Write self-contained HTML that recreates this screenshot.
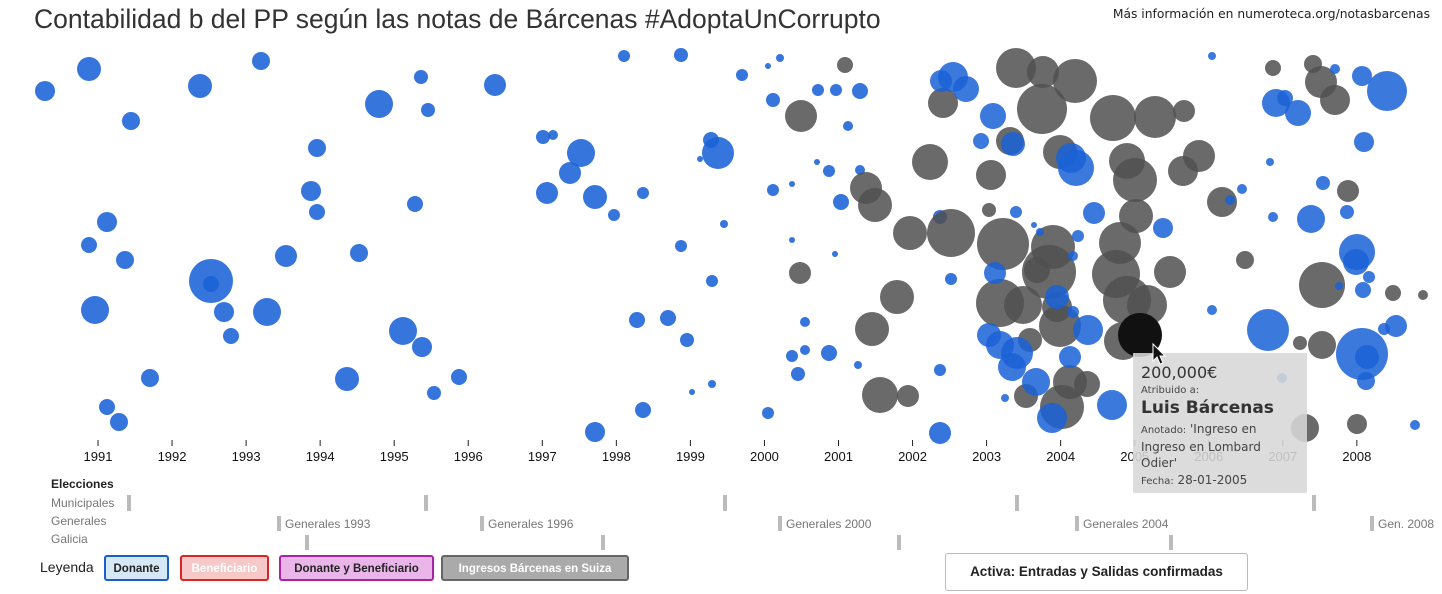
<!DOCTYPE html>
<html><head><meta charset="utf-8"><style>
body{margin:0;width:1442px;height:594px;overflow:hidden;background:#fff;font-family:"Liberation Sans",sans-serif;position:relative}
.t{position:absolute;white-space:nowrap}
.btn{position:absolute;top:555px;height:26px;border:2px solid;border-radius:3px;font-size:11.5px;font-weight:bold;line-height:24px;text-align:center;box-sizing:border-box}
</style></head><body>
<div class="t" style="left:34px;top:4px;font-size:26.5px;color:#333">Contabilidad b del PP según las notas de Bárcenas #AdoptaUnCorrupto</div>
<div class="t" style="right:12px;top:7px;font-size:12.3px;color:#222;font-family:'DejaVu Sans',sans-serif">Más información en numeroteca.org/notasbarcenas</div>
<svg width="1442" height="594" style="position:absolute;left:0;top:0" id="s"></svg>
<div class="t" style="left:51px;top:477px;font-size:12px;font-weight:bold;color:#222">Elecciones</div>
<div class="t" style="left:51px;top:496px;font-size:12px;color:#777">Municipales</div>
<div class="t" style="left:51px;top:514px;font-size:12px;color:#777">Generales</div>
<div class="t" style="left:51px;top:532px;font-size:12px;color:#777">Galicia</div>
<div class="t" style="left:40px;top:559px;font-size:14px;color:#222">Leyenda</div>
<div class="btn" style="left:104px;width:65px;border-color:#1a5fc8;background:#d6e8f5;color:#222">Donante</div>
<div class="btn" style="left:180px;width:89px;border-color:#d22;background:#f6c8c8;color:#fff">Beneficiario</div>
<div class="btn" style="left:279px;width:155px;border-color:#a2a;background:#eab6ea;color:#222">Donante y Beneficiario</div>
<div class="btn" style="left:441px;width:188px;border-color:#666;background:#aaa;color:#fff">Ingresos Bárcenas en Suiza</div>
<div class="btn" style="left:945px;width:303px;top:553px;height:38px;line-height:36px;border:1px solid #bbb;background:#fff;color:#222;font-size:13.5px">Activa: Entradas y Salidas confirmadas</div>
<div class="t" style="left:1133px;top:353px;width:174px;height:140px;background:rgba(215,215,215,0.88)"></div>
<div class="t" style="left:1141px;top:363px;font-size:16px;color:#333;font-family:'DejaVu Sans',sans-serif">200,000€</div>
<div class="t" style="left:1141px;top:385px;font-size:10px;color:#444;font-family:'DejaVu Sans',sans-serif">Atribuido a:</div>
<div class="t" style="left:1141px;top:398px;font-size:17px;font-weight:bold;color:#333;font-family:'DejaVu Sans',sans-serif">Luis Bárcenas</div>
<div class="t" style="left:1141px;top:421px;font-size:12px;color:#444;line-height:16px;font-family:'DejaVu Sans',sans-serif"><span style="font-size:10px">Anotado:</span> 'Ingreso en<br>Ingreso en Lombard<br>Odier'</div>
<div class="t" style="left:1141px;top:473px;font-size:12px;color:#444;font-family:'DejaVu Sans',sans-serif"><span style="font-size:10px">Fecha:</span> 28-01-2005</div>
<svg width="20" height="26" style="position:absolute;left:1151px;top:342px"><path d="M2,2 L2,19 L6,15 L9,22 L12,21 L9,14 L14,14 Z" fill="#111" stroke="#fff" stroke-width="1"/></svg>
<script>
var B="#1a62d6",G="#505050";
var blue=[[45,91,10],[89,69,12],[131,121,9],[200,86,12],[261,61,9],[379,104,14],[421,77,7],[428,110,7],[495,85,11],[317,148,9],[311,191,10],[317,212,8],[107,222,10],[89,245,8],[125,260,9],[211,281,22],[211,284,8],[286,256,11],[359,253,9],[95,310,14],[224,312,10],[231,336,8],[267,312,14],[403,331,14],[422,347,10],[150,378,9],[347,379,12],[459,377,8],[434,393,7],[107,407,8],[119,422,9],[415,204,8],
[543,137,7],[553,135,5],[570,173,11],[581,153,14],[547,193,11],[595,197,12],[614,215,6],[624,56,6],[681,55,7],[643,193,6],[711,140,8],[718,153,16],[700,159,3],[724,224,4],[681,246,6],[712,281,6],[637,320,8],[668,318,8],[687,340,7],[643,410,8],[595,432,10],[692,392,3],[712,384,4],[742,75,6],[768,66,3],[780,58,4],[773,100,7],[773,190,6],[792,184,3],[817,162,3],[792,240,3],[835,254,3],[805,322,5],[805,350,5],[792,356,6],[798,374,7],[829,353,8],[768,413,6],[818,90,6],[836,90,6],[860,91,8],[829,171,6],[848,126,5],[860,170,5],[841,202,8],[858,365,4],[940,433,11],[940,370,6],[951,279,6],[940,217,7]];
var gray=[[801,116,16],[845,65,8],[800,273,11],[866,188,16],[875,205,17],[910,233,17],[930,162,18],[872,329,17],[897,297,17],[880,395,18],[908,396,11],[951,233,24],[943,103,15],[1016,68,20],[1043,72,16],[1075,81,22],[1042,109,25],[1113,118,23],[1155,117,21],[1184,111,11],[1183,171,15],[1199,156,16],[1222,202,15],[1010,141,14],[991,175,15],[1003,244,26],[989,210,7],[1000,303,24],[1023,305,19],[1053,247,22],[1049,272,27],[1057,307,15],[1060,326,21],[1037,270,13],[1030,340,12],[1070,382,17],[1062,407,22],[1087,384,13],[1116,274,24],[1120,243,21],[1136,216,17],[1135,180,22],[1127,161,18],[1060,152,17],[1127,300,24],[1147,305,20],[1170,272,16],[1123,341,19],[1026,396,12],[1245,260,9],[1273,68,8],[1313,64,9],[1321,82,16],[1335,100,15],[1348,191,11],[1322,285,23],[1322,345,14],[1300,343,7],[1305,428,14],[1357,424,10],[1393,293,8],[1423,295,5]];
var blue2=[[941,81,11],[953,77,15],[966,89,13],[993,116,13],[981,141,8],[1013,144,12],[1016,212,6],[995,273,11],[989,335,12],[1000,345,14],[1017,353,16],[1012,367,14],[1036,382,14],[1005,398,4],[1052,418,15],[1071,158,15],[1076,168,18],[1070,357,11],[1057,297,12],[1094,213,11],[1088,330,15],[1112,405,15],[1163,228,10],[1212,310,5],[1212,56,4],[1230,200,5],[1242,189,5],[1276,103,14],[1298,113,13],[1285,98,8],[1362,76,10],[1387,91,20],[1335,69,5],[1364,142,10],[1270,162,4],[1273,217,5],[1311,219,14],[1323,183,7],[1347,212,7],[1357,252,18],[1356,262,13],[1369,277,6],[1363,290,8],[1339,286,4],[1362,354,26],[1367,357,12],[1366,381,9],[1384,329,6],[1396,326,11],[1282,378,5],[1268,330,21],[1415,425,5],[1078,236,6],[1073,256,5],[1073,312,6],[1040,232,4],[1034,225,3]];
var h="";
function c(a,col,op){a.forEach(function(p){h+='<circle cx="'+p[0]+'" cy="'+p[1]+'" r="'+p[2]+'" fill="'+col+'" fill-opacity="'+op+'"/>';});}
c(blue,B,0.88);c(gray,G,0.85);c(blue2,B,0.85);
h+='<circle cx="1140" cy="335" r="22" fill="#111"/>';
for(var y=1991;y<=2008;y++){var x=98+(y-1991)*74.05;h+='<line x1="'+x+'" y1="440" x2="'+x+'" y2="446" stroke="#222"/><text x="'+x+'" y="461" font-size="13" text-anchor="middle" fill="#111" font-family="Liberation Sans">'+y+'</text>';}
var m=[127,424,723,1015,1312];m.forEach(function(x){h+='<rect x="'+x+'" y="495" width="4" height="16" fill="#bbb"/>';});
var g=[[277,"Generales 1993"],[480,"Generales 1996"],[778,"Generales 2000"],[1075,"Generales 2004"],[1370,"Gen. 2008"]];
g.forEach(function(p){h+='<rect x="'+p[0]+'" y="516" width="4" height="15" fill="#bbb"/><text x="'+(p[0]+8)+'" y="528" font-size="12" fill="#777" font-family="Liberation Sans">'+p[1]+'</text>';});
[305,601,897,1169].forEach(function(x){h+='<rect x="'+x+'" y="535" width="4" height="15" fill="#bbb"/>';});
document.getElementById("s").innerHTML=h;
</script>
</body></html>
